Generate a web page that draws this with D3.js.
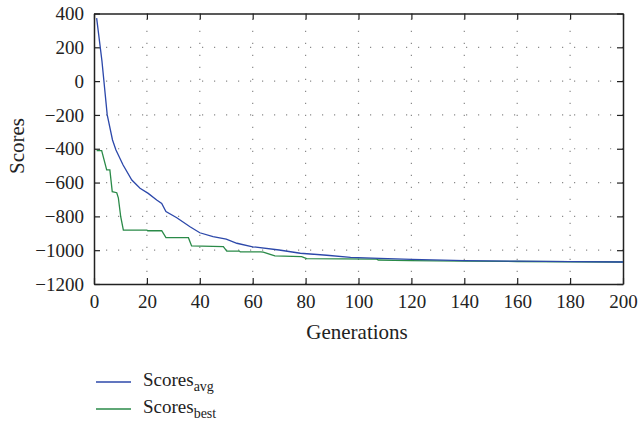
<!DOCTYPE html>
<html><head><meta charset="utf-8">
<script src="https://cdn.jsdelivr.net/npm/d3@7"></script>
<style>body{margin:0;background:#fff}svg{display:block}text{font-family:"Liberation Serif",serif;fill:#222}</style>
</head><body><svg id="c" width="639" height="424"></svg>
<script>
const xTicks=[0,20,40,60,80,100,120,140,160,180,200];
const yTicks=[400,200,0,-200,-400,-600,-800,-1000,-1200];
const avgGen=[1,3,5,7,8.3,11,14.3,17.4,20.5,23.7,25.6,27.2,31.3,36.3,40,45,50,54,60,70,78,88,97,108,120,140,160,180,200];
const avgVal=[373,120,-200,-348,-407,-496,-585,-634,-664,-703,-723,-772,-808,-861,-897,-920,-935,-959,-980,-999,-1018,-1030,-1042,-1048,-1054,-1062,-1065,-1068,-1070];
const bestGen=[1,2.9,4.8,6,6.9,8.6,9.2,10.1,11.1,20,20.3,25.6,27.2,35.7,36.9,48.9,50.2,55,55.3,63,64,68.4,78.5,80.4,106.9,107.5,119.5,140,160,200];
const bestVal=[-411,-411,-525,-525,-654,-660,-690,-802,-881,-881,-885,-885,-926,-926,-975,-979,-1005,-1005,-1010,-1010,-1012,-1034,-1038,-1050,-1053,-1058,-1062,-1065,-1067,-1070];
const seriesNames=["Scores","Scores"], seriesSubs=["avg","best"], colors=["#2c48aa","#2a8a48"];

const svg=d3.select("#c");
const L=94,R=623,T=13.5,B=284;
const x=d3.scaleLinear().domain([0,200]).range([L,R]);
const y=d3.scaleLinear().domain([-1200,400]).range([B,T]);

const g=svg.append("g").attr("stroke","#8a8a8a").attr("stroke-width",1.2).attr("stroke-dasharray","1.2,10.8");
xTicks.slice(1,-1).forEach(v=>g.append("line").attr("x1",x(v)).attr("x2",x(v)).attr("y1",B).attr("y2",T));
yTicks.slice(1,-1).forEach(v=>g.append("line").attr("y1",y(v)).attr("y2",y(v)).attr("x1",L).attr("x2",R));

const ff='"Liberation Serif", serif';
const ax=svg.append("g").attr("transform",`translate(0,${B})`).call(d3.axisBottom(x).tickValues(xTicks).tickSizeInner(-6).tickSizeOuter(0).tickPadding(11).tickFormat(d3.format("d")));
const at=svg.append("g").attr("transform",`translate(0,${T})`).call(d3.axisTop(x).tickValues(xTicks).tickSizeInner(-6).tickSizeOuter(0).tickFormat(""));
const ay=svg.append("g").attr("transform",`translate(${L},0)`).call(d3.axisLeft(y).tickValues(yTicks).tickSizeInner(-6).tickSizeOuter(0).tickPadding(10).tickFormat(d=>d<0?"\u2212"+Math.abs(d):d));
const ar=svg.append("g").attr("transform",`translate(${R},0)`).call(d3.axisRight(y).tickValues(yTicks).tickSizeInner(-6).tickSizeOuter(0).tickFormat(""));
[ax,at,ay,ar].forEach(a=>{a.attr("font-family",ff).attr("font-size",19);a.select(".domain").attr("stroke","#222").attr("stroke-width",1.5);a.selectAll(".tick line").attr("stroke","#222").attr("stroke-width",1.2);a.selectAll("text").attr("fill","#222");});

const line=d3.line().x(d=>x(d[0])).y(d=>y(d[1]));
svg.append("path").datum(bestGen.map((g,i)=>[g,bestVal[i]])).attr("d",line).attr("fill","none").attr("stroke",colors[1]).attr("stroke-width",1.3);
svg.append("path").datum(avgGen.map((g,i)=>[g,avgVal[i]])).attr("d",line).attr("fill","none").attr("stroke",colors[0]).attr("stroke-width",1.3);

svg.append("text").attr("x",357).attr("y",339).attr("text-anchor","middle").attr("font-family",ff).attr("font-size",21).text("Generations");
svg.append("text").attr("transform",`translate(24,146) rotate(-90)`).attr("text-anchor","middle").attr("font-family",ff).attr("font-size",21).text("Scores");

const ly=[382,409];
seriesNames.forEach((n,i)=>{
  svg.append("line").attr("x1",96).attr("x2",131).attr("y1",ly[i]).attr("y2",ly[i]).attr("stroke",colors[i]).attr("stroke-width",1.3);
  const t=svg.append("text").attr("x",143).attr("y",ly[i]+4).attr("font-family",ff).attr("font-size",19);
  t.append("tspan").text(n);
  t.append("tspan").attr("dy",4.5).attr("font-size",14).text(seriesSubs[i]);
});
</script></body></html>
